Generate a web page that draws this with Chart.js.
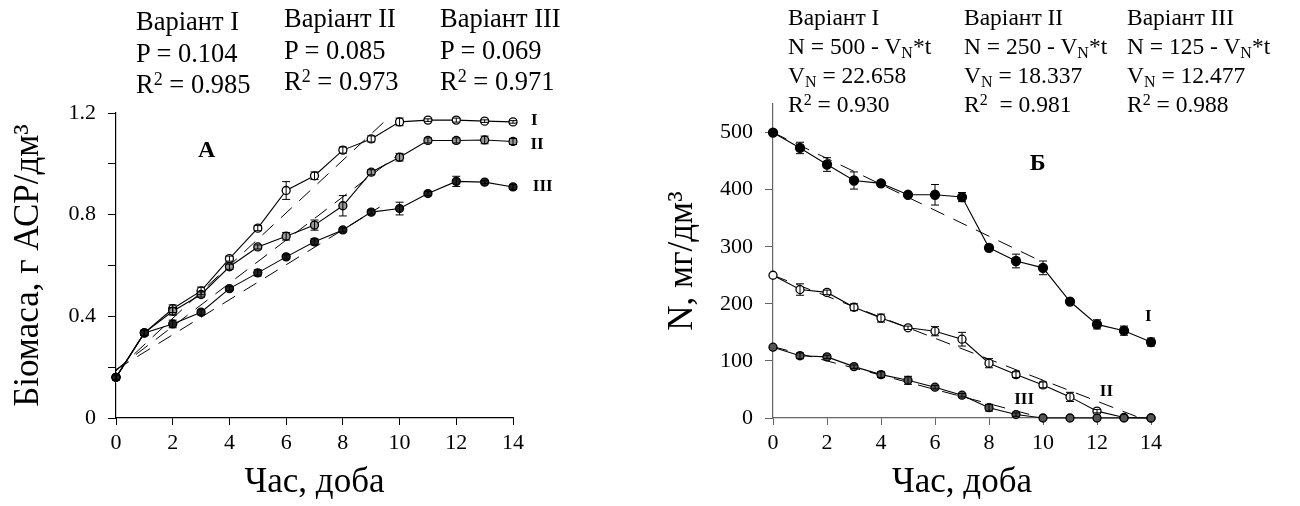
<!DOCTYPE html>
<html>
<head>
<meta charset="utf-8">
<script src="https://cdn.jsdelivr.net/npm/chart.js@4.4.1/dist/chart.umd.min.js"></script>
<style>
body{margin:0;background:#fff;width:1300px;height:506px;overflow:hidden;position:relative;font-family:"Liberation Serif","DejaVu Serif",serif;color:#000}
canvas{position:absolute;top:0}
.note{position:absolute;white-space:nowrap}
.note.a{font-size:26.5px;line-height:31.5px}
.note.b{font-size:23.5px;line-height:29px}
sup,sub{font-size:0.68em;line-height:0;position:relative;vertical-align:baseline}
sup{top:-0.45em}
sub{top:0.25em}
</style>
</head>
<body>
<canvas id="graf1" width="650" height="506" style="left:0"></canvas>
<canvas id="graf2" width="650" height="506" style="left:650px"></canvas>

<div class="note a" style="left:136px;top:6px">Варіант I<br>P = 0.104<br>R<sup>2</sup> = 0.985</div>
<div class="note a" style="left:284px;top:3px">Варіант II<br>P = 0.085<br>R<sup>2</sup> = 0.973</div>
<div class="note a" style="left:440px;top:3px">Варіант III<br>P = 0.069<br>R<sup>2</sup> = 0.971</div>

<div class="note b" style="left:788px;top:3px">Варіант I<br>N = 500 - V<sub>N</sub>*t<br>V<sub>N</sub> = 22.658<br>R<sup>2</sup> = 0.930</div>
<div class="note b" style="left:964px;top:3px">Варіант II<br>N = 250 - V<sub>N</sub>*t<br>V<sub>N</sub> = 18.337<br>R<sup>2</sup>&nbsp; = 0.981</div>
<div class="note b" style="left:1127px;top:3px">Варіант III<br>N = 125 - V<sub>N</sub>*t<br>V<sub>N</sub> = 12.477<br>R<sup>2</sup> = 0.988</div>

<script>
// доби
let days = [0,1,2,3,4,5,6,7,8,9,10,11,12,13,14];

// А: біомаса, г АСР/дм3
let bioI   = [0.16,0.335,0.43,0.50,0.627,0.747,0.895,0.953,1.054,1.098,1.165,1.172,1.172,1.168,1.165];
let bioII  = [0.16,0.335,0.42,0.486,0.595,0.673,0.715,0.759,0.835,0.967,1.026,1.092,1.092,1.094,1.088];
let bioIII = [0.16,0.335,0.37,0.416,0.509,0.571,0.634,0.693,0.740,0.810,0.824,0.883,0.931,0.928,0.909];
let bioErrI   = [0.01,0.01,0.015,0.015,0.01,0.01,0.035,0.015,0.012,0.012,0.015,0.005,0.008,0.005,0.005];
let bioErrII  = [0.01,0.01,0.015,0.01,0.01,0.008,0.015,0.02,0.04,0.01,0.015,0.01,0.01,0.015,0.012];
let bioErrIII = [0.01,0.01,0.015,0.01,0.008,0.012,0.008,0.012,0.008,0.008,0.025,0.008,0.02,0.006,0.01];
// лінійна апроксимація (кінці відрізків)
let fitBioI   = [{x:0,y:0.185},{x:9.6,y:1.18}];
let fitBioII  = [{x:0,y:0.19},{x:10,y:1.04}];
let fitBioIII = [{x:0,y:0.19},{x:9.3,y:0.83}];

// Б: N, мг/дм3
let nI   = [500,473,444,416,411,391,391,387,298,275,263,204,164,153,133];
let nII  = [250,225,220,194,175,158,152,138,96,76,58,37,12,1,0];
let nIII = [124,109,107,90,76,66,54,40,18,6,0,0,0,0,0];
let nErrI   = [0,10,12,15,3,3,18,8,5,12,12,4,8,8,7];
let nErrII  = [0,10,4,6,7,3,8,12,8,5,5,8,3,0,0];
let nErrIII = [0,5,3,3,5,7,3,3,6,3,0,0,0,0,0];
let fitNI   = [{x:0,y:500},{x:10,y:273}];
let fitNII  = [{x:0,y:250},{x:13.6,y:0}];
let fitNIII = [{x:0,y:125},{x:10,y:0}];

const SERIF = "'Liberation Serif', 'DejaVu Serif', serif";

function pts(ys){
return days.map((d,i)=>({x:d,y:ys[i]}));
}

function serie(ys, errs, fill, r){
return {
data: pts(ys),
errors: errs,
clip: false,
borderColor:"#000",
borderWidth:1.1,
pointRadius:r,
pointBackgroundColor:fill,
pointBorderColor:"#000",
pointBorderWidth:1.3,
tension:0
};
}

function trend(d){
return {
data:d,
clip: false,
borderColor:"#000",
borderWidth:1,
borderDash:[15,10],
pointRadius:0,
tension:0
};
}

// вуса похибок + підписи
const extras = {
id:"extras",
afterDatasetsDraw(chart, args, opts){
let ctx = chart.ctx;
let xs = chart.scales.x, ys = chart.scales.y;
ctx.save();
ctx.strokeStyle = "#000";
ctx.lineWidth = 1;
chart.data.datasets.forEach(ds=>{
if(!ds.errors) return;
ds.data.forEach((p,i)=>{
let e = ds.errors[i];
if(!e) return;
let px = xs.getPixelForValue(p.x);
let y1 = ys.getPixelForValue(p.y + e);
let y2 = ys.getPixelForValue(p.y - e);
ctx.beginPath();
ctx.moveTo(px,y1); ctx.lineTo(px,y2);
ctx.moveTo(px-4,y1); ctx.lineTo(px+4,y1);
ctx.moveTo(px-4,y2); ctx.lineTo(px+4,y2);
ctx.stroke();
});
});
ctx.fillStyle = "#000";
ctx.textAlign = "center";
ctx.textBaseline = "middle";
(opts.labels||[]).forEach(l=>{
ctx.font = "bold " + l.size + "px " + SERIF;
ctx.fillText(l.text, xs.getPixelForValue(l.x), ys.getPixelForValue(l.y));
});
ctx.restore();
}
};

function axes(yOpts, axisColor, yTitle, yTitlePad){
return {
x:{
type:"linear", min:0, max:14,
border:{display:true,color:axisColor,width:1.2},
grid:{drawOnChartArea:false,drawTicks:true,tickLength:7,color:axisColor},
ticks:{stepSize:2,color:"#000",padding:5,font:{family:SERIF,size:22}},
title:{display:true,text:"Час, доба",color:"#000",font:{family:SERIF,size:35},padding:{top:0,bottom:2}},
afterFit(s){ s.height = 88; }
},
y:Object.assign({
border:{display:true,color:axisColor,width:1.2},
grid:{drawOnChartArea:false,drawTicks:true,tickLength:8,color:axisColor},
title:{display:true,text:yTitle,color:"#000",font:{family:SERIF,size:35},padding:{top:yTitlePad,bottom:0}},
afterFit(s){ s.width = 116; }
}, yOpts)
};
}

Chart.defaults.animation = false;
Chart.defaults.responsive = false;

new Chart(document.getElementById("graf1"), {
type:"line",
data:{
datasets:[
serie(bioIII, bioErrIII, "#222", 4),
serie(bioII, bioErrII, "#999", 4),
serie(bioI, bioErrI, "#fff", 4),
trend(fitBioI), trend(fitBioII), trend(fitBioIII)
]
},
plugins:[extras],
options:{
layout:{padding:{left:0,top:113,right:137,bottom:0}},
plugins:{
legend:{display:false},
tooltip:{enabled:false},
extras:{labels:[
{text:"А",x:3.2,y:1.05,size:24},
{text:"I",x:14.75,y:1.172,size:17},
{text:"II",x:14.85,y:1.075,size:17},
{text:"III",x:15.05,y:0.912,size:17}
]}
},
scales:axes({
min:0, max:1.2,
ticks:{stepSize:0.2,color:"#000",padding:12,font:{family:SERIF,size:22},
callback:v=>{ let r = Math.round(v*10)/10; return (Math.round(r*10) % 4 === 0) ? String(r) : ""; }}
}, "#000", "Біомаса, г АСР/дм³", 8)
}
});

new Chart(document.getElementById("graf2"), {
type:"line",
data:{
datasets:[
serie(nIII, nErrIII, "#555", 4),
serie(nII, nErrII, "#fff", 4),
serie(nI, nErrI, "#000", 4.5),
trend(fitNI), trend(fitNII), trend(fitNIII)
]
},
plugins:[extras],
options:{
layout:{padding:{left:7,top:104,right:149,bottom:0}},
plugins:{
legend:{display:false},
tooltip:{enabled:false},
extras:{labels:[
{text:"Б",x:9.8,y:446,size:24},
{text:"I",x:13.9,y:178,size:17},
{text:"II",x:12.35,y:46,size:17},
{text:"III",x:9.3,y:32,size:17}
]}
},
scales:axes({
min:0, max:550,
afterBuildTicks(s){ s.ticks = [0,100,200,300,400,500].map(v=>({value:v})); },
ticks:{color:"#000",padding:12,font:{family:SERIF,size:22}}
}, "#666", "N, мг/дм³", 5)
}
});
</script>
</body>
</html>
